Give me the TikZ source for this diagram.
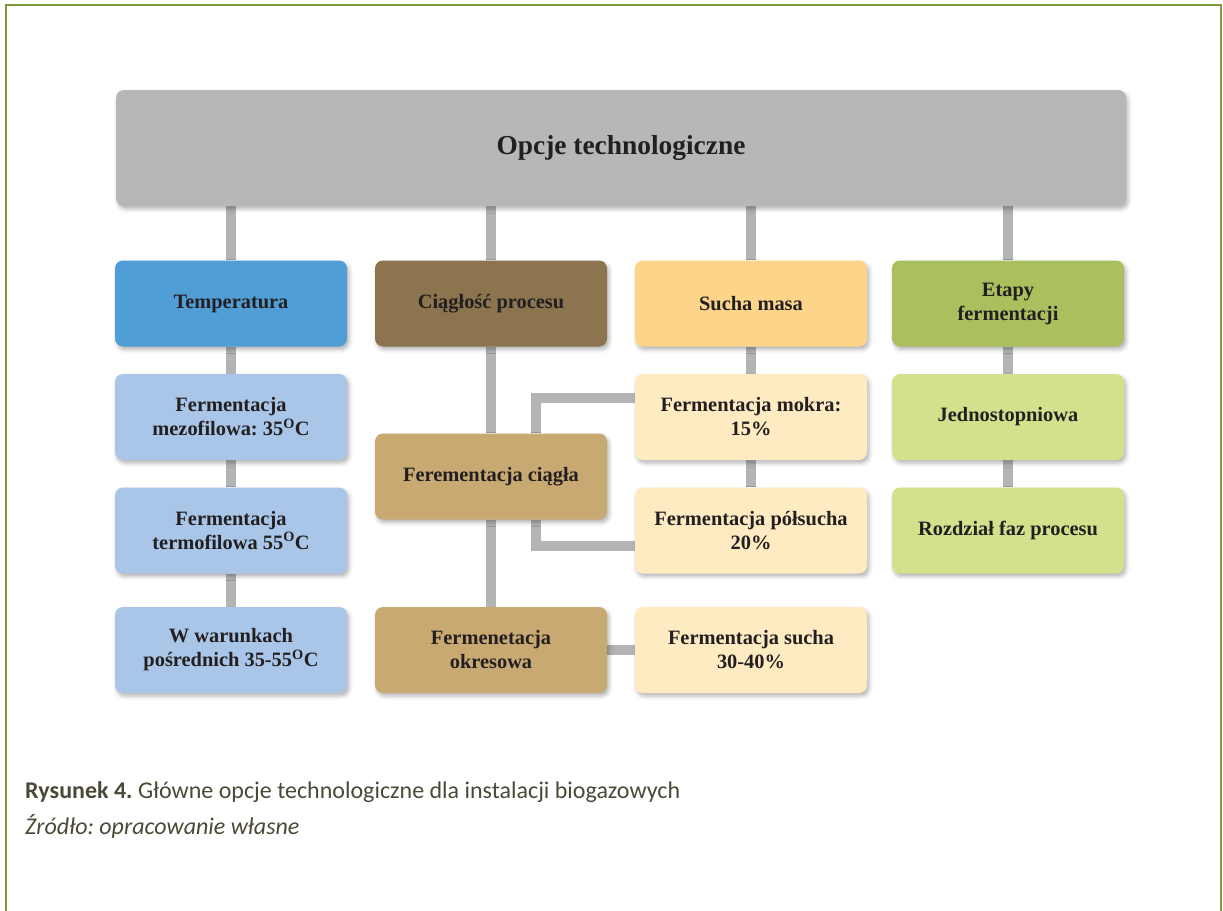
\documentclass[tikz,border=0pt]{standalone}
\usepackage{fontspec}
\setmainfont{Liberation Serif}
\newfontfamily\capfont{Carlito}
\usetikzlibrary{backgrounds,shadows.blur}
\frenchspacing

\definecolor{frameGreen}{HTML}{7A9A3C}
\definecolor{topGrey}{HTML}{B6B7B9}
\definecolor{connGrey}{HTML}{B3B4B6}
\definecolor{tempDark}{HTML}{519DD6}
\definecolor{tempLight}{HTML}{A9C6E8}
\definecolor{ciagDark}{HTML}{8B744E}
\definecolor{ciagLight}{HTML}{C9A972}
\definecolor{suchDark}{HTML}{FDD58A}
\definecolor{suchLight}{HTML}{FEEBC2}
\definecolor{etapDark}{HTML}{AABF5E}
\definecolor{etapLight}{HTML}{D3E18C}
\definecolor{boxText}{HTML}{231F20}
\definecolor{capText}{HTML}{4B4936}

\tikzset{
  optbox/.style={rounded corners=8pt, minimum width=232pt, minimum height=86pt,
    align=center, inner sep=4pt, text=boxText,
    font=\fontsize{20.4}{24}\selectfont\bfseries,
    blur shadow={shadow xshift=2pt, shadow yshift=-3pt, shadow blur radius=4pt, shadow opacity=30}},
  conn/.style={draw=connGrey, line width=10pt},
  framestyle/.style={draw=frameGreen, line width=2.5pt},
  captext/.style={anchor=west, inner sep=0pt, text=capText}
}

\begin{document}
\begin{tikzpicture}[x=1pt, y=-1pt]
\useasboundingbox (0,0) rectangle (1223,910);

% outer frame (open at the bottom)
\draw[framestyle] (6,912) -- (6,5) -- (1221,5) -- (1221,912);

% heading box
\node[optbox, fill=topGrey, minimum width=1010pt, minimum height=116pt,
      font=\fontsize{27.4}{32}\selectfont\bfseries] (top) at (621,148) {Opcje technologiczne};

% column 1: temperature
\node[optbox, fill=tempDark]  (temp) at (231,303.5) {Temperatura};
\node[optbox, fill=tempLight] (mezo) at (231,417) {Fermentacja\\mezofilowa: 35\textsuperscript{O}C};
\node[optbox, fill=tempLight] (termo) at (231,530.5) {Fermentacja\\termofilowa 55\textsuperscript{O}C};
\node[optbox, fill=tempLight] (posr) at (231,650) {W warunkach\\pośrednich 35-55\textsuperscript{O}C};

% column 2: continuity
\node[optbox, fill=ciagDark]  (ciag) at (491,303.5) {Ciągłość procesu};
\node[optbox, fill=ciagLight] (ciagla) at (491,476.5) {Ferementacja ciągła};
\node[optbox, fill=ciagLight] (okres) at (491,650) {Fermenetacja\\okresowa};

% column 3: dry mass
\node[optbox, fill=suchDark]  (sucha) at (751,303.5) {Sucha masa};
\node[optbox, fill=suchLight] (mokra) at (751,417) {Fermentacja mokra:\\15\%};
\node[optbox, fill=suchLight] (polsucha) at (751,530.5) {Fermentacja półsucha\\20\%};
\node[optbox, fill=suchLight] (suchaf) at (751,650) {Fermentacja sucha\\30-40\%};

% column 4: stages
\node[optbox, fill=etapDark]  (etap) at (1008,303.5) {Etapy\\fermentacji};
\node[optbox, fill=etapLight] (jedno) at (1008,417) {Jednostopniowa};
\node[optbox, fill=etapLight] (rozdz) at (1008,530.5) {Rozdział faz procesu};

% connectors behind the boxes
\begin{scope}[on background layer]
  \draw[conn] (temp.north |- top.south) -- (temp.north);
  \draw[conn] (ciag.north |- top.south) -- (ciag.north);
  \draw[conn] (sucha.north |- top.south) -- (sucha.north);
  \draw[conn] (etap.north |- top.south) -- (etap.north);

  \draw[conn] (temp.south) -- (mezo.north);
  \draw[conn] (mezo.south) -- (termo.north);
  \draw[conn] (termo.south) -- (posr.north);

  \draw[conn] (ciag.south) -- (ciagla.north);
  \draw[conn] (ciagla.south) -- (okres.north);
  \draw[conn] ([xshift=45pt]ciagla.north) |- ([yshift=19pt]mokra.west);
  \draw[conn] ([xshift=45pt]ciagla.south) |- ([yshift=-15pt]polsucha.west);
  \draw[conn] (okres.east) -- (suchaf.west);

  \draw[conn] (sucha.south) -- (mokra.north);
  \draw[conn] (mokra.south) -- (polsucha.north);

  \draw[conn] (etap.south) -- (jedno.north);
  \draw[conn] (jedno.south) -- (rozdz.north);
\end{scope}

% caption
\node[captext, font=\capfont\fontsize{24}{28}\selectfont] (cap1) at (25,792)
  {\textbf{Rysunek 4.} Główne opcje technologiczne dla instalacji biogazowych};
\node[captext, font=\capfont\fontsize{24}{28}\selectfont\itshape] (cap2) at (25,826)
  {Źródło: opracowanie własne};
\end{tikzpicture}
\end{document}
